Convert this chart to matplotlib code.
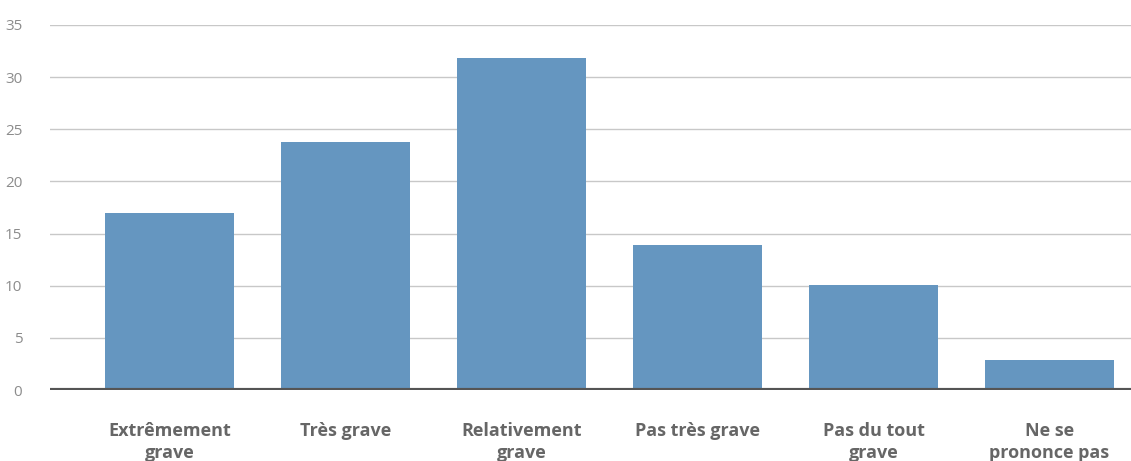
import matplotlib.pyplot as plt
import numpy as np

plt.rcParams['font.family'] = ['Open Sans', 'DejaVu Sans']

categories = ["Extrêmement\ngrave", "Très grave", "Relativement\ngrave",
              "Pas très grave", "Pas du tout\ngrave", "Ne se\nprononce pas"]
values = [17, 23.8, 31.8, 13.9, 10.1, 2.9]
yticks = [0, 5, 10, 15, 20, 25, 30, 35]

fig = plt.figure(figsize=(11.31, 4.61), dpi=100)
ax = fig.add_axes([50 / 1131, 71 / 461, 1 - 50 / 1131, 365 / 461])

x = np.arange(len(categories))
ax.bar(x, values, width=0.733, color="#6596c0", zorder=3)

ax.set_xlim(-0.679, 5.463)
ax.set_ylim(0, 35)
ax.set_yticks(yticks)
ax.set_xticks(x)
ax.set_xticklabels(categories, fontsize=13, fontweight="bold", color="#666666",
                   linespacing=1.3, va="top")
ax.tick_params(axis="x", length=0, pad=23)
ax.tick_params(axis="y", length=0, pad=20, labelsize=11, labelcolor="#8c8c8c")

ax.grid(axis="y", color="#c8c8c8", linewidth=1, zorder=0)
ax.axhline(0, color="#555555", linewidth=3, zorder=4)
for s in ax.spines.values():
    s.set_visible(False)

fig.savefig("out.png")
plt.close(fig)
